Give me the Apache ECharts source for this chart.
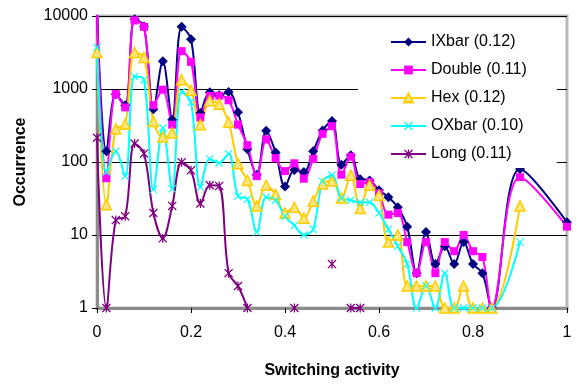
<!DOCTYPE html>
<html>
<head>
<meta charset="utf-8">
<script src="https://cdn.jsdelivr.net/npm/echarts@6/dist/echarts.min.js"></script>
<style>
  html, body { margin: 0; padding: 0; background: #fff; }
  #chart { width: 578px; height: 384px; }
</style>
</head>
<body>
<div id="chart"></div>
<script>
// switching activity (x), one point every 0.02 up to 0.84, then 0.9 and 1.0
var xs = [0, 0.02, 0.04, 0.06, 0.08, 0.1, 0.12, 0.14, 0.16, 0.18,
  0.2, 0.22, 0.24, 0.26, 0.28, 0.3, 0.32, 0.34, 0.36, 0.38,
  0.4, 0.42, 0.44, 0.46, 0.48, 0.5, 0.52, 0.54, 0.56, 0.58,
  0.6, 0.62, 0.64, 0.66, 0.68, 0.7, 0.72, 0.74, 0.76, 0.78,
  0.8, 0.82, 0.84, 0.9, 1.0];

var ixbar = [12000, 140, 850, 600, 9000, 7200, 530, 2400, 380, 7100,
  4800, 470, 900, 820, 910, 480, 150, 67, 268, 135,
  46, 78, 73, 140, 270, 365, 92, 124, 58, 56,
  41, 33, 24, 13, 3, 11, 4, 7, 4, 8,
  4, 3, 1, 80, 15];

var double = [11000, 60, 850, 560, 8700, 7100, 600, 980, 325, 3300,
  2350, 410, 800, 810, 700, 325, 170, 64, 204, 113,
  75, 96, 59, 110, 243, 309, 67, 118, 50, 53,
  37, 19, 20, 8, 3, 8, 3, 8, 6, 10,
  6, 5, 1, 62, 13];

var hex = [3160, 26, 284, 330, 3160, 2700, 360, 220, 250, 1340,
  960, 325, 690, 620, 350, 95, 56, 25, 48, 36,
  20, 24, 17, 29, 50, 55, 32, 66, 23, 48,
  35, 8, 10, 2, 2, 2, 2, 1, 1, 2,
  1, 1, 1, 25, null];

var oxbar = [3700, 73, 140, 64, 1480, 1340, 42, 293, 43, 914,
  656, 45, 110, 97, 130, 34, 31, 11, 33, 30,
  18, 13.5, 10, 12, 54, 66, 32, 30, 28, 28,
  20, 12, 7, 4, 1, 2, 1, 3, 1, 1,
  1, 1, 1, 8, null];

var long = [215, 1, 16, 18, 179, 131, 20, 9, 25, 99,
  77, 27, 48, 47, 3, 2, 1, null, null, null,
  null, 1, null, null, null, 4, null, 1, 1, null,
  null, null, null, null, null, null, null, null, null, null,
  null, null, null, null, null];

var yTicks = ["1", "10", "100", "1000", "10000"];

var names = ["IXbar (0.12)", "Double (0.11)", "Hex (0.12)", "OXbar (0.10)", "Long (0.11)"];

function pairs(arr) {
  return xs.map(function (x, i) { return [x, arr[i]]; });
}

var crossPath = "path://M0,1 L1,0 L5,4 L9,0 L10,1 L6,5 L10,9 L9,10 L5,6 L1,10 L0,9 L4,5 Z";
var starPath = "path://M0,1 L1,0 L5,4 L9,0 L10,1 L6,5 L10,9 L9,10 L5,6 L1,10 L0,9 L4,5 Z M4.3,0 L5.7,0 L5.7,10 L4.3,10 Z";

function mkSeries(name, arr, color, symbol, size, fill) {
  return {
    name: name,
    type: "line",
    data: pairs(arr),
    smooth: 0.35,
    connectNulls: false,
    symbol: symbol,
    symbolSize: size,
    showAllSymbol: true,
    lineStyle: { color: color, width: 2 },
    itemStyle: { color: fill || color, borderColor: color, borderWidth: fill ? 1.5 : 0 },
    emphasis: { disabled: true }
  };
}

var myChart = echarts.init(document.getElementById("chart"));
var font = "'Liberation Sans', Arial, sans-serif";
var option = {
  animation: false,
  textStyle: { fontFamily: font },
  grid: {
    left: 97,
    right: 11,
    top: 16,
    bottom: 70.5,
    show: true,
    borderColor: "#b8b8b8",
    borderWidth: 3
  },
  legend: {
    orient: "vertical",
    left: 358,
    top: 25,
    padding: [9, 30, 6, 32],
    backgroundColor: "#ffffff",
    itemWidth: 35,
    itemHeight: 11,
    itemGap: 12,
    textStyle: { fontSize: 16, color: "#000", fontFamily: font, lineHeight: 16 },
    data: names
  },
  xAxis: {
    type: "value",
    min: 0,
    max: 1,
    interval: 0.2,
    name: "Switching activity",
    nameLocation: "middle",
    nameGap: 55,
    nameTextStyle: { fontSize: 16, fontWeight: "bold", color: "#000" },
    axisLine: { show: true, lineStyle: { color: "#8c8c8c", width: 3 } },
    axisTick: { show: true, inside: false, length: 5, lineStyle: { color: "#000" } },
    axisLabel: { fontSize: 16, color: "#000", margin: 17 },
    splitLine: { show: false }
  },
  yAxis: {
    type: "log",
    logBase: 10,
    min: 1,
    max: 10000,
    name: "Occurrence",
    nameLocation: "middle",
    nameGap: 68,
    nameTextStyle: { fontSize: 16, fontWeight: "bold", color: "#000" },
    axisLine: { show: true, lineStyle: { color: "#8c8c8c", width: 3 } },
    axisTick: { show: true, inside: false, length: 5, lineStyle: { color: "#000" } },
    axisLabel: {
      fontSize: 16,
      color: "#000",
      margin: 9,
      formatter: function (v) {
        return yTicks[Math.round(Math.log10(v))];
      }
    },
    splitLine: { show: true, lineStyle: { color: "#000", width: 1 } }
  },
  series: [
    mkSeries(names[0], ixbar, "#000080", "diamond", 10),
    mkSeries(names[1], double, "#ff00ff", "rect", 8),
    mkSeries(names[2], hex, "#ffcc00", "triangle", 10, "#ffe680"),
    mkSeries(names[3], oxbar, "#00ffff", crossPath, 8),
    mkSeries(names[4], long, "#800080", starPath, 9)
  ]
};
myChart.setOption(option);
window.addEventListener("resize", function () {
  myChart.resize();
});
</script>
</body>
</html>
